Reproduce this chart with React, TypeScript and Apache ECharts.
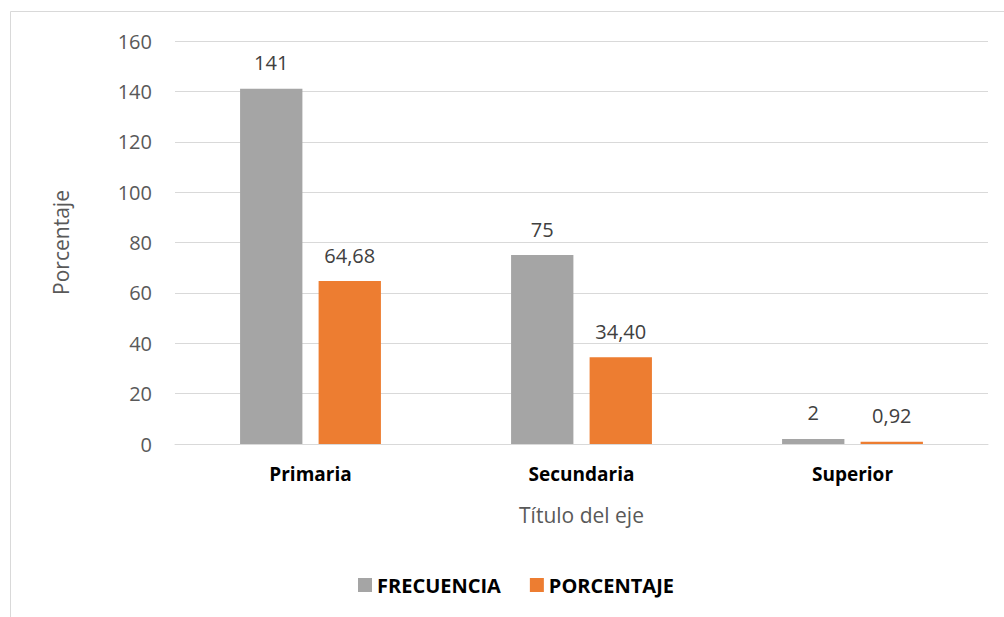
import React, { useEffect, useRef } from "react";
import * as echarts from "echarts";

const categories = ["Primaria", "Secundaria", "Superior"];
const frecuencia = [141, 75, 2];
const porcentaje = [64.68, 34.4, 0.92];
const seriesNames = ["FRECUENCIA", "PORCENTAJE"];
const yTicks = { min: 0, max: 160, interval: 20 };

const FONT = "'Open Sans', 'Noto Sans', sans-serif";

export default function App() {
  const ref = useRef<HTMLDivElement>(null);
  useEffect(() => {
    document.body.style.margin = "0";
    const chart = echarts.init(ref.current!, null, { renderer: "svg" });
    chart.setOption({
      animation: false,
      backgroundColor: "#ffffff",
      textStyle: { fontFamily: FONT },
      graphic: [
        {
          type: "rect",
          shape: { x: 10.5, y: 11.5, width: 1100, height: 700 },
          style: { fill: "none", stroke: "#d9d9d9", lineWidth: 1 },
          silent: true,
        },
      ],
      grid: { left: 175, right: 16, top: 41, bottom: 173 },
      legend: {
        data: seriesNames,
        top: 570,
        left: 353,
        icon: "rect",
        itemWidth: 14,
        itemHeight: 14,
        itemGap: 29,
        textStyle: { fontFamily: FONT, fontSize: 20, fontWeight: "bold", color: "#000000" },
      },
      xAxis: {
        type: "category",
        data: categories,
        name: "Título del eje",
        nameLocation: "middle",
        nameGap: 60,
        nameTextStyle: { fontFamily: FONT, fontSize: 21, color: "#595959" },
        axisLine: { lineStyle: { color: "#d9d9d9", width: 1 } },
        axisTick: { show: false },
        axisLabel: { margin: 20, fontFamily: FONT, fontSize: 19, fontWeight: "bold", color: "#000000" },
      },
      yAxis: {
        type: "value",
        min: yTicks.min,
        max: yTicks.max,
        interval: yTicks.interval,
        name: "Porcentaje",
        nameLocation: "middle",
        nameGap: 104,
        nameTextStyle: { fontFamily: FONT, fontSize: 21, color: "#595959" },
        axisLine: { show: false },
        axisTick: { show: false },
        axisLabel: { margin: 23, fontFamily: FONT, fontSize: 20, color: "#595959" },
        splitLine: { lineStyle: { color: "#d9d9d9", width: 1 } },
      },
      series: [
        {
          name: seriesNames[0],
          type: "bar",
          data: frecuencia,
          barWidth: "23%",
          barGap: "26%",
          itemStyle: { color: "#a5a5a5" },
          label: {
            show: true,
            position: "top",
            distance: 16,
            fontFamily: FONT,
            fontSize: 20,
            color: "#404040",
            formatter: (p: any) => String(p.value),
          },
        },
        {
          name: seriesNames[1],
          type: "bar",
          data: porcentaje,
          barWidth: "23%",
          barGap: "26%",
          itemStyle: { color: "#ed7d31" },
          label: {
            show: true,
            position: "top",
            distance: 16,
            fontFamily: FONT,
            fontSize: 20,
            color: "#404040",
            formatter: (p: any) => Number(p.value).toFixed(2).replace(".", ","),
          },
        },
      ],
    });
    return () => chart.dispose();
  }, []);
  return <div ref={ref} style={{ width: 1004, height: 617 }} />;
}
